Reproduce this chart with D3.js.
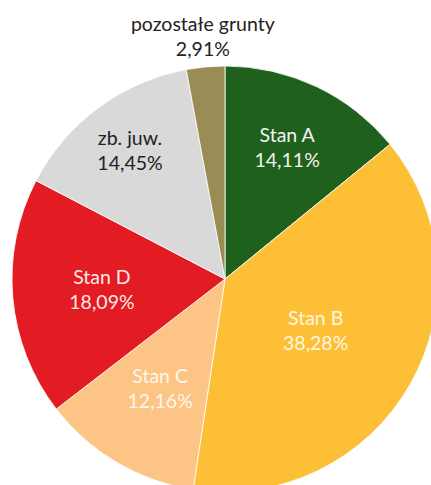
<!DOCTYPE html>
<html>
<head>
<meta charset="utf-8">
<script src="https://cdn.jsdelivr.net/npm/d3@7"></script>
<style>
	body { margin: 0; background: #fff; }
	svg { display: block; }
	.lbl { font-family: Lato, "Open Sans", sans-serif; font-size: 19.5px; }
</style>
</head>
<body>
<svg class="pie-chart"></svg>
<script>
// slices, clockwise from 12 o'clock
var categories = ["Stan A", "Stan B", "Stan C", "Stan D", "zb. juw.", "pozostałe grunty"];
var shares = [14.11, 38.28, 12.16, 18.09, 14.45, 2.91];
var shareLabels = ["14,11%", "38,28%", "12,16%", "18,09%", "14,45%", "2,91%"];

var colors = ["#1f611c", "#fcbf35", "#fdc585", "#e31b23", "#d9d9d9", "#998c55"];
var textColors = ["#f2f2f2", "#fff6e0", "#fff6ec", "#fde8e8", "#222", "#222"];
// label distance from centre, as fraction of radius
var labelRadius = [0.68, 0.49, 0.60, 0.58, 0.75, 1.14];

var width = 431, height = 485,
	cx = 225, cy = 279, radius = 213;

var svg = d3.select(".pie-chart")
	.attr("width", width)
	.attr("height", height);

var g = svg.append("g")
	.attr("transform", "translate(" + cx + "," + cy + ")");

var pie = d3.pie()
	.sort(null)
	.value(function(d) { return d; });

var arc = d3.arc()
	.innerRadius(0)
	.outerRadius(radius);

var arcs = pie(shares);

g.selectAll("path")
	.data(arcs)
	.enter().append("path")
	.attr("d", arc)
	.attr("fill", function(d, i) { return colors[i]; })
	.attr("stroke", "#fff")
	.attr("stroke-width", 0.8);

// labels: name + percentage, two lines
var labels = g.selectAll("text.lbl")
	.data(arcs)
	.enter().append("text")
	.attr("class", "lbl")
	.attr("text-anchor", "middle")
	.attr("fill", function(d, i) { return textColors[i]; })
	.attr("transform", function(d, i) {
		var a = (d.startAngle + d.endAngle) / 2;
		var r = radius * labelRadius[i];
		return "translate(" + (Math.sin(a) * r) + "," + (-Math.cos(a) * r) + ")";
	});

labels.append("tspan")
	.attr("x", 0)
	.attr("y", -6)
	.text(function(d, i) { return categories[i]; });
labels.append("tspan")
	.attr("x", 0)
	.attr("y", 19)
	.text(function(d, i) { return shareLabels[i]; });
</script>
</body>
</html>
